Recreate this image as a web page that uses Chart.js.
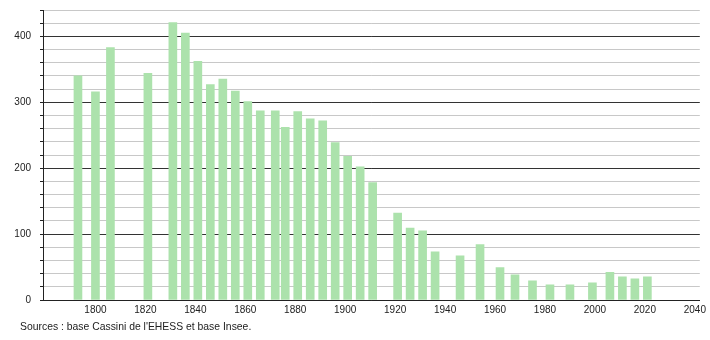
<!DOCTYPE html>
<html>
<head>
<meta charset="utf-8">
<script src="https://cdn.jsdelivr.net/npm/chart.js@4/dist/chart.umd.min.js"></script>
<style>
    html, body { margin: 0; padding: 0; background: #fff; }
    .wrap { position: relative; width: 710px; height: 340px; }
    .source {
        position: absolute; left: 20px; top: 321px;
        font: 10.4px "Liberation Sans", Arial, sans-serif; color: #222;
    }
</style>
</head>
<body>
<div class="wrap">
    <canvas id="popChart" width="710" height="340"></canvas>
    <div class="source">Sources : base Cassini de l'EHESS et base Insee.</div>
</div>
<script>
// Census years and population
const years = [1793, 1800, 1806, 1821, 1831, 1836, 1841, 1846, 1851, 1856, 1861, 1866, 1872, 1876,
    1881, 1886, 1891, 1896, 1901, 1906, 1911, 1921, 1926, 1931, 1936, 1946, 1954, 1962, 1968,
    1975, 1982, 1990, 1999, 2006, 2011, 2016, 2021];
const population = [340, 316, 383, 344, 421, 405, 362, 327, 335, 317, 301, 287, 287, 262,
    286, 275, 272, 239, 218, 202, 178, 132, 109, 105, 73, 67, 84, 49, 38,
    29, 23, 23, 26, 42, 35, 32, 35];

// Axis ticks
const xTicks = [1800, 1820, 1840, 1860, 1880, 1900, 1920, 1940, 1960, 1980, 2000, 2020, 2040];
const yTicks = [0, 20, 40, 60, 80, 100, 120, 140, 160, 180, 200, 220, 240, 260, 280, 300,
    320, 340, 360, 380, 400, 420, 440];

const font = { family: '"Liberation Sans", Arial, sans-serif', size: 10 };

const ctx = document.getElementById('popChart').getContext('2d');
const popChart = new Chart(ctx, {
    type: 'bar',
    data: {
        datasets: [{
            data: years.map((y, i) => ({ x: y, y: population[i] })),
            backgroundColor: 'rgb(172, 226, 172)',
            borderWidth: 0,
            barThickness: 8
        }]
    },
    options: {
        responsive: false,
        animation: false,
        layout: { padding: { top: 10, right: 8, left: 0, bottom: 0 } },
        plugins: {
            legend: { display: false },
            tooltip: { enabled: false }
        },
        scales: {
            x: {
                type: 'linear',
                offset: false,
                min: 1779,
                max: 2042,
                afterBuildTicks: function(scale) {
                    scale.ticks = xTicks.map(v => ({ value: v }));
                },
                afterFit: function(scale) { scale.height = 40; },
                grid: { display: false, drawTicks: false },
                border: { display: true, color: '#222', width: 1 },
                ticks: {
                    color: '#222',
                    font: font,
                    padding: 4,
                    maxRotation: 0,
                    autoSkip: false,
                    callback: function(value) { return String(value); }
                }
            },
            y: {
                min: 0,
                max: 440,
                afterBuildTicks: function(scale) {
                    scale.ticks = yTicks.map(v => ({ value: v }));
                },
                afterFit: function(scale) {
                    scale.width = 43;
                    scale.paddingTop = 0;
                    scale.paddingBottom = 0;
                },
                grid: {
                    color: function(c) {
                        return c.tick && c.tick.value % 100 === 0 ? '#333' : '#c8c8c8';
                    },
                    tickColor: '#222',
                    tickLength: 3,
                    lineWidth: 1
                },
                border: { display: true, color: '#222', width: 1 },
                ticks: {
                    color: '#222',
                    font: font,
                    padding: 9,
                    autoSkip: false,
                    callback: function(value) {
                        return value % 100 === 0 ? value : '';
                    }
                }
            }
        }
    }
});
</script>
</body>
</html>
